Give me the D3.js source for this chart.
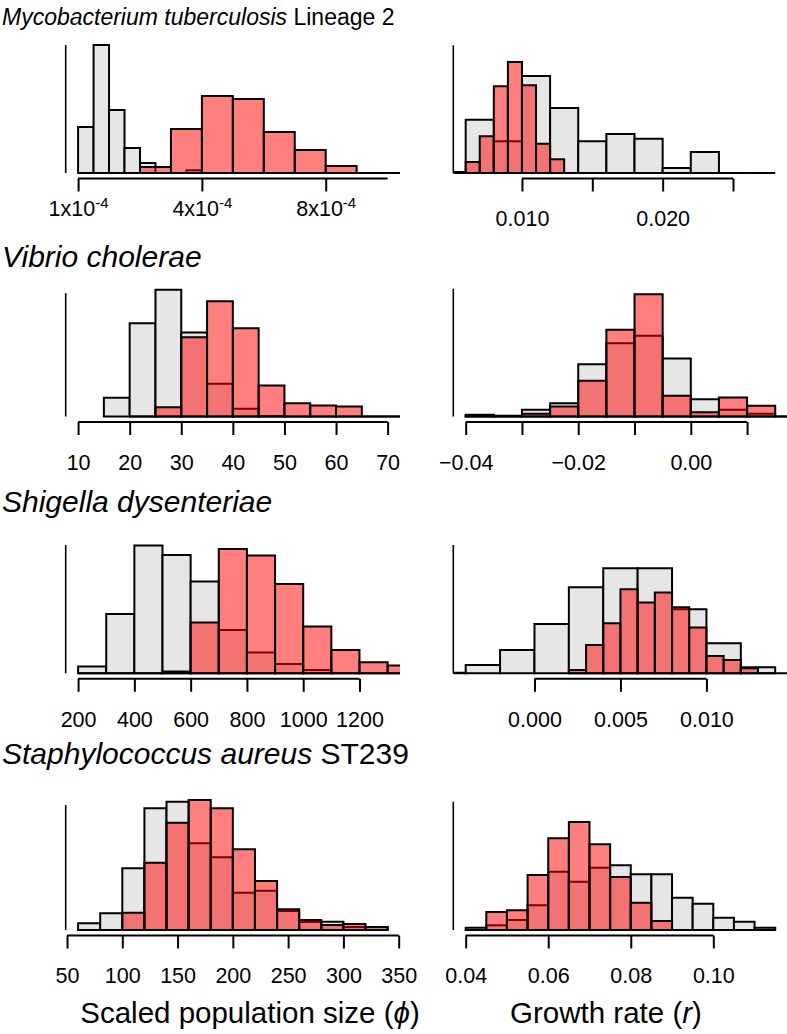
<!DOCTYPE html>
<html lang="en">
<head>
<meta charset="utf-8">
<title>Prior and posterior histograms</title>
<script src="https://cdn.jsdelivr.net/npm/d3@7"></script>
<style>
  body { margin: 0; background: #fff; }
  svg { display: block; font-family: "Liberation Sans", Arial, sans-serif; }
</style>
</head>
<body>
<svg id="chart" width="787" height="1034"></svg>
<script>
// panel titles
var species = ["Mycobacterium tuberculosis", "Vibrio cholerae", "Shigella dysenteriae", "Staphylococcus aureus"];
var speciesSuffix = [" Lineage 2", "", "", " ST239"];

// M. tuberculosis, scaled population size
var mtbPhiLim = [0.0001, 0.0011];
var mtbPhiPriorW = 0.00005;
var mtbPhiPriorX0 = [0.0001, 0.00015, 0.0002, 0.00025, 0.0003, 0.00035, 0.0004, 0.00045, 0.0005, 0.00055, 0.0006,
                     0.00065, 0.0007, 0.00075, 0.0008, 0.00085, 0.0009, 0.00095, 0.001, 0.00105, 0.0011];
var mtbPhiPrior = [46, 128, 63, 25, 10, 0, 0, 2.7, 0, 0, 0, 0, 0, 0, 0, 0, 0, 0, 0, 0, 0];
var mtbPhiPostW = 0.0001;
var mtbPhiPostX0 = [0.0003, 0.0004, 0.0005, 0.0006, 0.0007, 0.0008, 0.0009, 0.001];
var mtbPhiPost = [6, 44, 77, 74, 41, 23, 7, 0];
var mtbPhiYTop = 128;
var mtbPhiAxis = [0.0001, 0.0011];
var mtbPhiTicks = [0.0001, 0.0005, 0.0009];
var mtbPhiLabels = ["1x10", "4x10", "8x10"];

// M. tuberculosis, growth rate
var mtbRLim = [0.006, 0.028];
var mtbRPriorW = 0.002;
var mtbRPriorX0 = [0.006, 0.008, 0.010, 0.012, 0.014, 0.016, 0.018, 0.020, 0.022, 0.024, 0.026];
var mtbRPrior = [53.3, 31.7, 97, 65, 31.7, 39, 34.3, 5, 21, 0, 0];
var mtbRPostW = 0.001;
var mtbRPostX0 = [0.005, 0.006, 0.007, 0.008, 0.009, 0.010, 0.011, 0.012];
var mtbRPost = [1, 11, 36.7, 86.7, 111, 87.7, 29.3, 13.7];
var mtbRYTop = 127.7;
var mtbRTicks = [0.010, 0.015, 0.020, 0.025];
var mtbRLabels = ["0.010", "", "0.020", ""];

// V. cholerae, scaled population size
var vchPhiLim = [10, 70];
var vchPhiW = 5;
var vchPhiPriorX0 = [15, 20, 25, 30, 35, 40, 45, 50, 55, 60, 65, 70];
var vchPhiPrior = [18.7, 93.3, 126.7, 84, 32.7, 7.7, 0.5, 0, 0, 0, 0, 0];
var vchPhiPostX0 = [20, 25, 30, 35, 40, 45, 50, 55, 60, 65, 70];
var vchPhiPost = [0, 9.3, 79.3, 115.3, 88.3, 31, 13.3, 11, 10, 0, 0];
var vchPhiYTop = 123.3;
var vchPhiTicks = [10, 20, 30, 40, 50, 60, 70];
var vchPhiLabels = ["10", "20", "30", "40", "50", "60", "70"];

// V. cholerae, growth rate
var vchRLim = [-0.04, 0.015];
var vchRW = 0.005;
var vchRX0 = [-0.04, -0.035, -0.03, -0.025, -0.02, -0.015, -0.01, -0.005, 0, 0.005, 0.01, 0.015];
var vchRPrior = [1.7, 0.7, 6.7, 13.3, 52.3, 73.3, 80.7, 58, 17.3, 6.7, 2.7, 0];
var vchRPost = [0.5, 0, 2.7, 10, 35.7, 86.7, 122.3, 20.7, 4.3, 19, 10.7, 0];
var vchRYTop = 127.7;
var vchRTicks = [-0.04, -0.03, -0.02, -0.01, 0, 0.01];
var vchRLabels = ["\u22120.04", "", "\u22120.02", "", "0.00", ""];

// S. dysenteriae, scaled population size
var sdyPhiLim = [200, 1300];
var sdyPhiW = 100;
var sdyPhiX0 = [200, 300, 400, 500, 600, 700, 800, 900, 1000, 1100, 1200, 1300];
var sdyPhiPrior = [6.7, 59.3, 127.7, 118.3, 91.7, 43.3, 20.7, 9.3, 3.3, 0, 0, 0];
var sdyPhiPost = [0, 0, 0, 1.7, 50.7, 124.3, 117.7, 89.3, 46.7, 23.3, 11, 7.7];
var sdyPhiYTop = 128.3;
var sdyPhiTicks = [200, 400, 600, 800, 1000, 1200];
var sdyPhiLabels = ["200", "400", "600", "800", "1000", "1200"];

// S. dysenteriae, growth rate
var sdyRLim = [-0.004, 0.014];
var sdyRPriorW = 0.002;
var sdyRPriorX0 = [-0.006, -0.004, -0.002, 0, 0.002, 0.004, 0.006, 0.008, 0.010, 0.012, 0.014, 0.016];
var sdyRPrior = [0.5, 8.3, 23.3, 49.3, 86, 105, 105, 64, 30, 6, 0, 0];
var sdyRPostW = 0.001;
var sdyRPostX0 = [0.002, 0.003, 0.004, 0.005, 0.006, 0.007, 0.008, 0.009, 0.010, 0.011, 0.012, 0.013];
var sdyRPost = [3.3, 28.3, 50, 84, 70.7, 80.7, 66, 45.7, 17.3, 13.3, 5, 0];
var sdyRYTop = 128.3;
var sdyRTicks = [0, 0.005, 0.010];
var sdyRLabels = ["0.000", "0.005", "0.010"];

// S. aureus, scaled population size
var sauPhiLim = [60, 340];
var sauPhiW = 20;
var sauPhiX0 = [60, 80, 100, 120, 140, 160, 180, 200, 220, 240, 260, 280, 300, 320];
var sauPhiPrior = [6.7, 16.7, 61.7, 121.7, 128.3, 86.7, 72.7, 37.3, 39.3, 19, 8, 8.3, 3, 3];
var sauPhiPost = [0, 0, 17.3, 67.3, 107.3, 130, 121.7, 80.7, 49, 20.7, 10, 5, 6, 3];
var sauPhiYTop = 125;
var sauPhiTicks = [50, 100, 150, 200, 250, 300, 350];
var sauPhiLabels = ["50", "100", "150", "200", "250", "300", "350"];

// S. aureus, growth rate
var sauRLim = [0.04, 0.115];
var sauRW = 0.005;
var sauRX0 = [0.04, 0.045, 0.05, 0.055, 0.06, 0.065, 0.07, 0.075, 0.08, 0.085, 0.09, 0.095, 0.1, 0.105, 0.11];
var sauRPrior = [2.3, 4.7, 10, 24.7, 58.3, 48.3, 62.3, 64.7, 55.7, 55.7, 32.3, 26.3, 12.3, 8.3, 2.3];
var sauRPost = [0, 18, 19.7, 55, 91.7, 108, 85.7, 53, 27.3, 9, 0, 0, 0, 0, 0];
var sauRYTop = 128.3;
var sauRTicks = [0.04, 0.06, 0.08, 0.10];
var sauRLabels = ["0.04", "0.06", "0.08", "0.10"];

var xTitles = ["Scaled population size (", "Growth rate ("];

function bins(x0, w, h) {
  return x0.map(function(v, i) { return {x0: v, x1: v + w, h: h[i]}; });
}

var panels = [
  {row: 0, col: 0, lim: mtbPhiLim, yTop: mtbPhiYTop, ticks: mtbPhiTicks, labels: mtbPhiLabels, axis: mtbPhiAxis, sup: "-4",
   prior: bins(mtbPhiPriorX0, mtbPhiPriorW, mtbPhiPrior), post: bins(mtbPhiPostX0, mtbPhiPostW, mtbPhiPost)},
  {row: 0, col: 1, lim: mtbRLim, yTop: mtbRYTop, ticks: mtbRTicks, labels: mtbRLabels,
   prior: bins(mtbRPriorX0, mtbRPriorW, mtbRPrior), post: bins(mtbRPostX0, mtbRPostW, mtbRPost)},
  {row: 1, col: 0, lim: vchPhiLim, yTop: vchPhiYTop, ticks: vchPhiTicks, labels: vchPhiLabels,
   prior: bins(vchPhiPriorX0, vchPhiW, vchPhiPrior), post: bins(vchPhiPostX0, vchPhiW, vchPhiPost)},
  {row: 1, col: 1, lim: vchRLim, yTop: vchRYTop, ticks: vchRTicks, labels: vchRLabels,
   prior: bins(vchRX0, vchRW, vchRPrior), post: bins(vchRX0, vchRW, vchRPost)},
  {row: 2, col: 0, lim: sdyPhiLim, yTop: sdyPhiYTop, ticks: sdyPhiTicks, labels: sdyPhiLabels,
   prior: bins(sdyPhiX0, sdyPhiW, sdyPhiPrior), post: bins(sdyPhiX0, sdyPhiW, sdyPhiPost)},
  {row: 2, col: 1, lim: sdyRLim, yTop: sdyRYTop, ticks: sdyRTicks, labels: sdyRLabels,
   prior: bins(sdyRPriorX0, sdyRPriorW, sdyRPrior), post: bins(sdyRPostX0, sdyRPostW, sdyRPost)},
  {row: 3, col: 0, lim: sauPhiLim, yTop: sauPhiYTop, ticks: sauPhiTicks, labels: sauPhiLabels,
   prior: bins(sauPhiX0, sauPhiW, sauPhiPrior), post: bins(sauPhiX0, sauPhiW, sauPhiPost)},
  {row: 3, col: 1, lim: sauRLim, yTop: sauRYTop, ticks: sauRTicks, labels: sauRLabels,
   prior: bins(sauRX0, sauRW, sauRPrior), post: bins(sauRX0, sauRW, sauRPost)}
];

// layout
var plotW = 334.3;
var colLeft = [65.7, 453.3];
var rowBase = [173, 416.5, 673.3, 930];
var titleBase = [25, 267, 512, 764];
var titleSize = [23, 30, 30, 30];
var yRange = 137.5;

var svg = d3.select("#chart");

// titles
species.forEach(function(s, i) {
  var t = svg.append("text")
      .attr("x", 2)
      .attr("y", titleBase[i])
      .attr("font-size", titleSize[i]);
  t.append("tspan").attr("font-style", "italic").text(s);
  if (speciesSuffix[i]) t.append("tspan").text(speciesSuffix[i]);
});

function barPath(d, x, y) {
  return "M" + x(d.x0) + "," + y(0) + "V" + y(d.h) + "H" + x(d.x1) + "V" + y(0) + "Z";
}

panels.forEach(function(p, i) {
  var left = colLeft[p.col];
  var base = rowBase[p.row];
  var pad = 0.04 * (p.lim[1] - p.lim[0]);
  var x = d3.scaleLinear().domain([p.lim[0] - pad, p.lim[1] + pad]).range([left, left + plotW]);
  var y = d3.scaleLinear().domain([0, yRange]).range([base, base - yRange]);

  svg.append("clipPath").attr("id", "clip" + i)
    .append("rect")
      .attr("x", left).attr("y", base - 200)
      .attr("width", plotW).attr("height", 203);

  var g = svg.append("g").attr("clip-path", "url(#clip" + i + ")");

  g.selectAll("path.prior")
    .data(p.prior)
    .enter().append("path")
      .attr("class", "prior")
      .attr("d", function(d) { return barPath(d, x, y); })
      .attr("fill", "#e6e6e6")
      .attr("stroke", "#000")
      .attr("stroke-width", 2);

  g.selectAll("path.post")
    .data(p.post)
    .enter().append("path")
      .attr("class", "post")
      .attr("d", function(d) { return barPath(d, x, y); })
      .attr("fill", "rgba(255,0,0,0.5)")
      .attr("stroke", "#000")
      .attr("stroke-width", 2);

  // y axis: plain line, no ticks
  svg.append("line")
    .attr("x1", left).attr("x2", left)
    .attr("y1", y(0)).attr("y2", y(p.yTop))
    .attr("stroke", "#000")
    .attr("stroke-width", 1.6);

  // x axis
  var ext = p.axis || [p.ticks[0], p.ticks[p.ticks.length - 1]];
  var ax = svg.append("g")
    .attr("transform", "translate(0," + (base + 5.5) + ")")
    .call(d3.axisBottom(x)
      .tickValues(p.ticks)
      .tickSize(13)
      .tickSizeOuter(0)
      .tickPadding(19.5)
      .tickFormat(function(d, k) { return p.labels[k]; }));
  ax.select(".domain")
    .attr("d", "M" + x(ext[0]) + ",0H" + x(ext[1]))
    .attr("stroke-width", 2);
  ax.selectAll(".tick line").attr("stroke-width", 2);
  ax.attr("font-size", 21.5).attr("font-family", null);
  ax.selectAll(".tick text").attr("fill", "#000");

  if (p.sup) {
    ax.selectAll(".tick text").each(function(d, k) {
      var t = d3.select(this).text(null).attr("y", 22);
      t.append("tspan").text(p.labels[k]);
      t.append("tspan").attr("dy", -8).attr("font-size", 15).text(p.sup);
    });
  }
});

// axis titles
var tl = svg.append("text").attr("x", 250).attr("y", 1023)
  .attr("text-anchor", "middle").attr("font-size", 29.5);
tl.append("tspan").text(xTitles[0]);
tl.append("tspan").attr("font-style", "italic").text("\u03d5");
tl.append("tspan").text(")");

var tr = svg.append("text").attr("x", 606).attr("y", 1023)
  .attr("text-anchor", "middle").attr("font-size", 29.5);
tr.append("tspan").text(xTitles[1]);
tr.append("tspan").attr("font-style", "italic").text("r");
tr.append("tspan").text(")");
</script>
</body>
</html>
